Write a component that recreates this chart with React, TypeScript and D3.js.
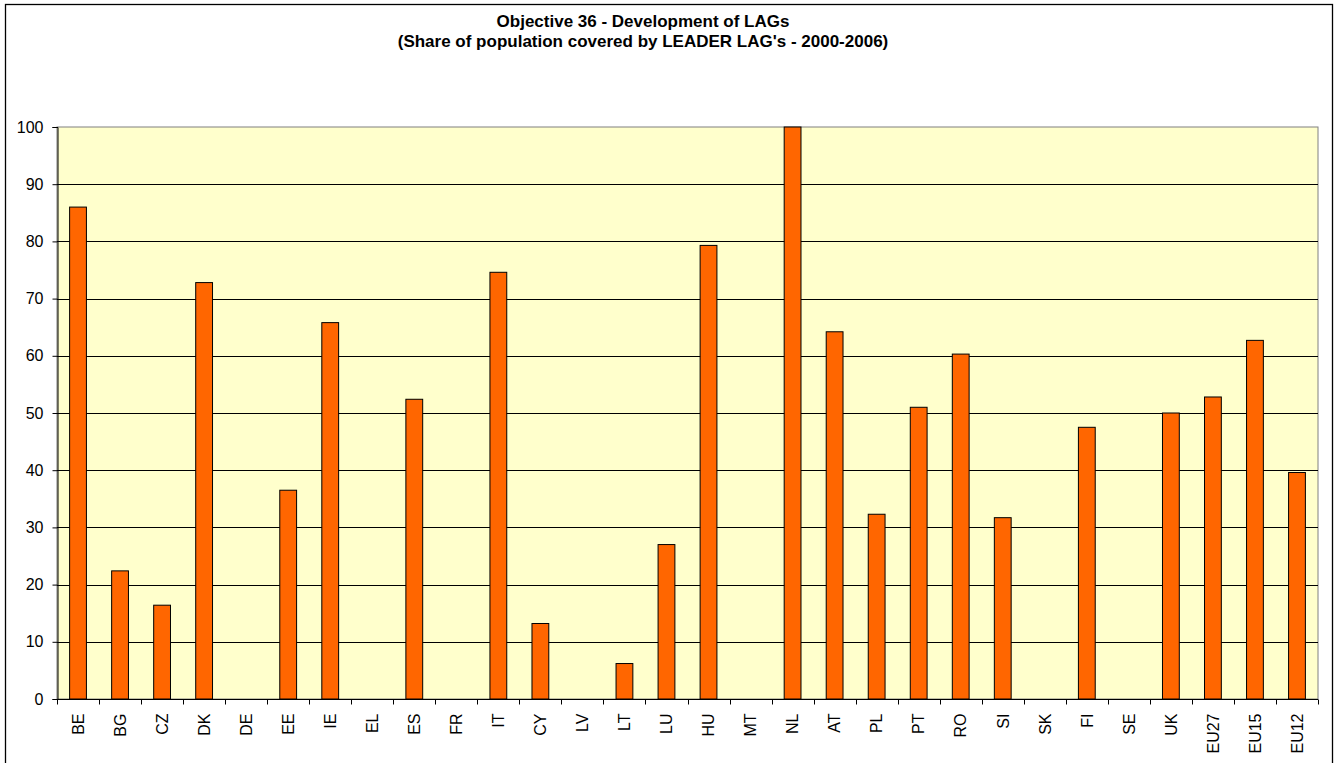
import React, { useEffect, useRef } from 'react';
import * as d3 from 'd3';

const countries = ['BE', 'BG', 'CZ', 'DK', 'DE', 'EE', 'IE', 'EL', 'ES', 'FR', 'IT', 'CY', 'LV', 'LT', 'LU',
  'HU', 'MT', 'NL', 'AT', 'PL', 'PT', 'RO', 'SI', 'SK', 'FI', 'SE', 'UK', 'EU27', 'EU15', 'EU12'];
const shares = [86.0, 22.4, 16.4, 72.8, 0, 36.5, 65.8, 0, 52.4, 0, 74.6, 13.2, 0, 6.2, 27.0,
  79.3, 0, 100, 64.2, 32.3, 51.0, 60.3, 31.7, 0, 47.5, 0, 50.0, 52.8, 62.7, 39.6];
const yTicks = [0, 10, 20, 30, 40, 50, 60, 70, 80, 90, 100];
const titleLines = ['Objective 36 - Development of LAGs', "(Share of population covered by LEADER LAG's - 2000-2006)"];

const W = 1337, H = 763;
const plot = { left: 57, right: 1318, top: 127, bottom: 699 };
const font = 'Arial, Liberation Sans, sans-serif';

export default function App() {
  const ref = useRef<SVGSVGElement>(null);

  useEffect(() => {
    const svg = d3.select(ref.current);
    svg.selectAll('*').remove();

    const x = d3.scaleBand().domain(countries).range([plot.left, plot.right]).paddingInner(0.6).paddingOuter(0.3);
    const y = d3.scaleLinear().domain([0, 100]).range([plot.bottom, plot.top]);
    const step = x.step();
    const x0 = (plot.left + plot.right) / 2 - (step * countries.length) / 2;

    svg.append('rect')
      .attr('x', 5.5).attr('y', 4.5).attr('width', 1327).attr('height', 800)
      .attr('fill', '#fff').attr('stroke', '#000').attr('stroke-width', 1.3);

    // title, two lines
    svg.append('g').selectAll('text').data(titleLines).enter().append('text')
      .attr('x', 643).attr('y', (d, i) => 27 + i * 20)
      .attr('text-anchor', 'middle')
      .attr('font-family', font).attr('font-weight', 'bold').attr('font-size', 17)
      .text(d => d);

    svg.append('rect')
      .attr('x', plot.left).attr('y', plot.top)
      .attr('width', plot.right - plot.left).attr('height', plot.bottom - plot.top)
      .attr('fill', '#FFFFCC').attr('stroke', '#808080').attr('stroke-width', 1);

    svg.append('g').selectAll('line').data(yTicks.filter(t => t > 0 && t < 100)).enter().append('line')
      .attr('x1', plot.left).attr('x2', plot.right)
      .attr('y1', d => Math.round(y(d)) + 0.5).attr('y2', d => Math.round(y(d)) + 0.5)
      .attr('stroke', '#000').attr('stroke-width', 1);

    svg.append('g').selectAll('rect').data(shares).enter().append('rect')
      .attr('x', (d, i) => x(countries[i]) as number)
      .attr('y', d => y(d))
      .attr('width', x.bandwidth())
      .attr('height', d => y(0) - y(d))
      .attr('fill', '#FF6600').attr('stroke', '#000').attr('stroke-width', 1)
      .attr('display', d => (d > 0 ? null : 'none'));

    const yAxis = svg.append('g')
      .attr('transform', `translate(${plot.left + 0.5},0)`)
      .call(d3.axisLeft(y).tickValues(yTicks).tickSize(5).tickPadding(9));
    yAxis.select('.domain').attr('stroke', '#000');
    yAxis.selectAll('.tick line').attr('stroke', '#000');
    yAxis.selectAll('text')
      .attr('font-family', font).attr('font-size', 16).attr('fill', '#000');

    const xAxis = svg.append('g').attr('transform', `translate(0,${plot.bottom + 0.5})`);
    xAxis.append('line').attr('x1', plot.left).attr('x2', plot.right).attr('stroke', '#000');
    xAxis.selectAll('line.tk').data(d3.range(countries.length + 1)).enter().append('line')
      .attr('class', 'tk')
      .attr('x1', i => Math.round(x0 + i * step) + 0.5).attr('x2', i => Math.round(x0 + i * step) + 0.5)
      .attr('y1', 0).attr('y2', 5).attr('stroke', '#000');
    xAxis.selectAll('text').data(countries).enter().append('text')
      .attr('transform', d => `translate(${(x(d) as number) + x.bandwidth() / 2},14) rotate(-90)`)
      .attr('text-anchor', 'end').attr('dy', '0.36em')
      .attr('font-family', font).attr('font-size', 16).attr('fill', '#000')
      .text(d => d);
  }, []);

  return (
    <svg ref={ref} width={W} height={H} xmlns="http://www.w3.org/2000/svg"
      style={{ position: 'absolute', left: 0, top: 0, display: 'block' }} />
  );
}
